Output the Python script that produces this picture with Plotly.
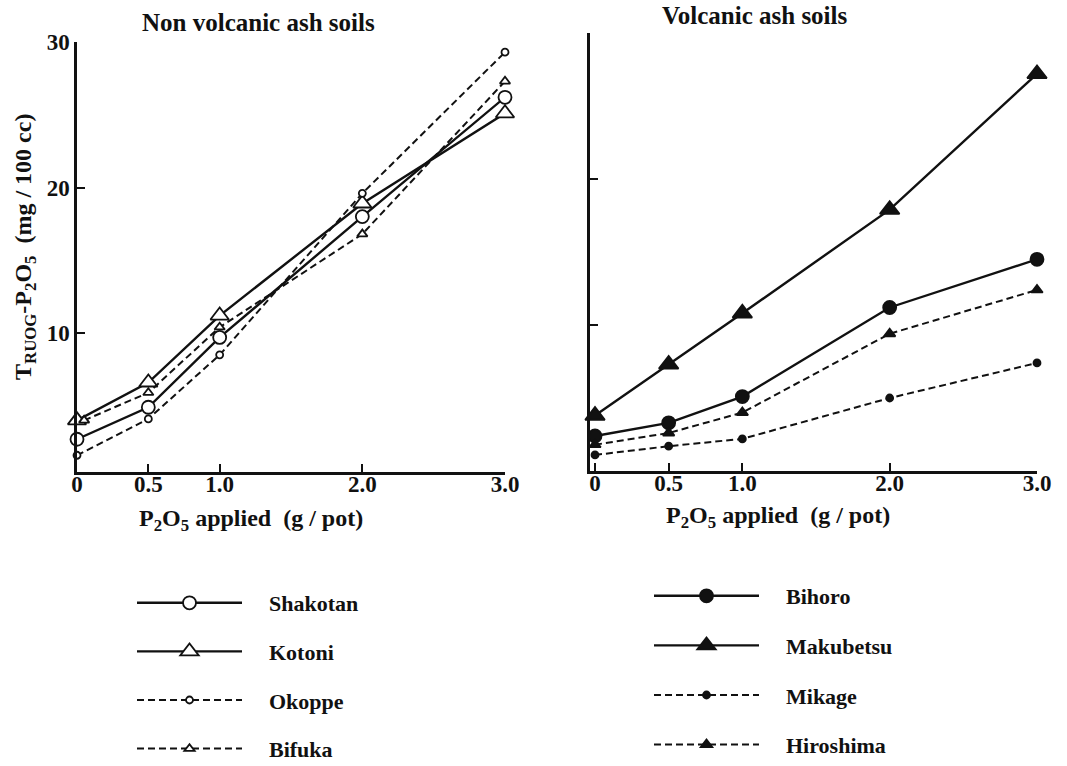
import plotly.graph_objects as go

# ---- data ----
x_vals = [0, 0.5, 1.0, 2.0, 3.0]
x_bifuka = [0.05, 0.5, 1.0, 2.0, 3.0]
x_ticklabels = ["0", "0.5", "1.0", "2.0", "3.0"]

shakotan = [2.7, 4.9, 9.7, 18.0, 26.2]
kotoni = [4.0, 6.6, 11.2, 18.9, 25.1]
okoppe = [1.6, 4.1, 8.5, 19.6, 29.3]
bifuka = [4.0, 5.9, 10.4, 16.8, 27.3]

bihoro = [2.4, 3.3, 5.1, 11.2, 14.5]
makubetsu = [3.8, 7.3, 10.8, 17.9, 27.2]
mikage = [1.1, 1.7, 2.2, 5.0, 7.4]
hiroshima = [1.8, 2.6, 4.0, 9.4, 12.4]

y_tickvals = [10, 20, 30]
y_ticklabels = ["10", "20", "30"]

FONT = "Liberation Serif"
BLACK = "#111111"
PAD = "\u00a0" * 4
DASH = "7px,4px"

fig = go.Figure()

def add(name, xs, ys, dash, symbol, size, width, xa, ya, legend, filled):
    fig.add_trace(go.Scatter(
        x=xs, y=ys, name=PAD + name, mode="lines+markers",
        line=dict(color=BLACK, width=width, dash=dash),
        marker=dict(symbol=symbol, size=size,
                    color=BLACK if filled else "white",
                    line=dict(color=BLACK, width=1.8)),
        xaxis=xa, yaxis=ya, legend=legend, legendgroup=name,
        cliponaxis=False,
    ))

add("Shakotan", x_vals, shakotan, "solid", "circle", 13, 2.4, "x", "y", "legend", False)
add("Kotoni", x_vals, kotoni, "solid", "triangle-up", 16, 2.4, "x", "y", "legend", False)
add("Okoppe", x_vals, okoppe, DASH, "circle", 7, 2.0, "x", "y", "legend", False)
add("Bifuka", x_bifuka, bifuka, DASH, "triangle-up", 9, 2.0, "x", "y", "legend", False)

add("Bihoro", x_vals, bihoro, "solid", "circle", 13, 2.4, "x2", "y2", "legend2", True)
add("Makubetsu", x_vals, makubetsu, "solid", "triangle-up", 17, 2.4, "x2", "y2", "legend2", True)
add("Mikage", x_vals, mikage, DASH, "circle", 7, 2.0, "x2", "y2", "legend2", True)
add("Hiroshima", x_vals, hiroshima, DASH, "triangle-up", 10, 2.0, "x2", "y2", "legend2", True)

tickfont = dict(family=FONT, size=23, color=BLACK, weight="bold")
xcommon = dict(showline=True, linecolor=BLACK, linewidth=2.5, showgrid=False, zeroline=False,
               tickvals=x_vals, ticktext=x_ticklabels, ticks="inside", ticklen=8,
               tickwidth=1.5, tickcolor=BLACK, tickfont=tickfont, ticklabelstandoff=-10)
ycommon = dict(showline=True, linecolor=BLACK, linewidth=2.5, showgrid=False, zeroline=False,
               tickvals=y_tickvals, ticks="inside", ticklen=8, tickwidth=1.5,
               tickcolor=BLACK, tickfont=tickfont, ticklabelstandoff=0)

W, H = 1067, 766
def px(v): return v / W
def py(v): return 1 - v / H

legend_common = dict(font=dict(family=FONT, size=22, color=BLACK, weight="bold"),
                     bgcolor="rgba(0,0,0,0)", itemwidth=105,
                     xanchor="left", yanchor="top", traceorder="grouped",
                     itemsizing="trace")

def ann(text, x, y, size, angle=0):
    return dict(text=text, x=px(x), y=py(y), xref="paper", yref="paper",
                xanchor="center", yanchor="middle", showarrow=False, textangle=angle,
                font=dict(family=FONT, size=size, color=BLACK, weight="bold"))

fig.update_layout(
    width=W, height=H,
    margin=dict(l=0, r=0, t=0, b=0, autoexpand=False),
    paper_bgcolor="white", plot_bgcolor="white",
    showlegend=True,
    xaxis=dict(domain=[px(77), px(505)], range=[0, 3.0], anchor="y", **xcommon),
    yaxis=dict(domain=[py(472), py(42)], range=[0.45, 30], anchor="x",
               ticktext=y_ticklabels, **ycommon),
    xaxis2=dict(domain=[px(590), px(1037)], range=[-0.034, 3.0], anchor="y2", **xcommon),
    yaxis2=dict(domain=[py(471), py(33)], range=[0, 30], anchor="x2",
                showticklabels=False, **ycommon),
    legend=dict(x=px(132), y=py(582), tracegroupgap=17, **legend_common),
    legend2=dict(x=px(649), y=py(575), tracegroupgap=18, **legend_common),
    annotations=[
        ann("Non volcanic ash soils", 258, 22, 25),
        ann("Volcanic ash soils", 755, 15, 25),
        ann("P<sub>2</sub>O<sub>5</sub> applied  (g / pot)", 251, 520, 24),
        ann("P<sub>2</sub>O<sub>5</sub> applied  (g / pot)", 778, 517, 24),
        ann("T<sub>RUOG</sub>-P<sub>2</sub>O<sub>5</sub>  (mg / 100 cc)", 25, 247, 24, -90),
    ],
)

fig.write_html("out.html", post_script="document.body.style.margin='0';")
